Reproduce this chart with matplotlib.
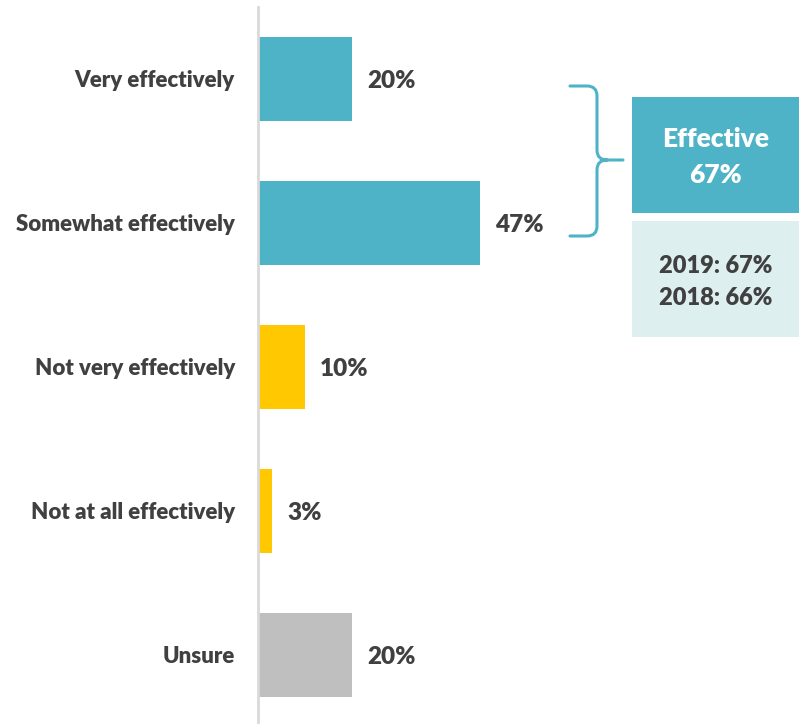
import numpy as np
import matplotlib.pyplot as plt
from matplotlib.patches import Rectangle, PathPatch
from matplotlib.path import Path

# survey responses, share of respondents (%)
categories = ['Very effectively', 'Somewhat effectively', 'Not very effectively',
              'Not at all effectively', 'Unsure']
values = [20, 47, 10, 3, 20]
bar_colors = ['#4FB3C8', '#4FB3C8', '#FFC800', '#FFC800', '#BFBFBF']

summary_title = 'Effective'
summary_value = 67
history = [('2019', 67), ('2018', 66)]

TEXT = '#404040'
TEAL = '#4FB3C8'
LIGHT = '#DDEFEE'

plt.rcParams['font.family'] = ['Lato', 'DejaVu Sans']
plt.rcParams['font.weight'] = 'heavy'

W, H = 799, 724
fig = plt.figure(figsize=(W / 100, H / 100), dpi=100)


def fx(px):
    return px / W


def fy(py):
    return 1 - py / H


# bars axis: starts at the category axis, 1% ~ 4.72 px
ax = fig.add_axes([fx(258), 0, 1 - fx(258), 1])
ax.set_xlim(0, (W - 258) / 4.72)
ax.set_ylim((H - 79) / 144, -79 / 144)
ax.axis('off')

y = np.arange(len(categories))
ax.barh(y, values, height=0.59, color=bar_colors, left=0)
for yi, v in zip(y, values):
    ax.text(v + 3.2, yi + 0.012, f'{v}%', va='center', ha='left',
            fontsize=17.5, fontweight='heavy', color=TEXT)
    ax.text(-23 / 4.72, yi + 0.012, categories[yi], va='center', ha='right',
            fontsize=16, fontweight='heavy', color=TEXT, clip_on=False)

# category axis line
fig.add_artist(plt.Line2D([fx(258), fx(258)], [fy(7), 0], color='#D9D9D9', lw=2))

# brace joining the two "effective" rows
x0, x1, xt = 570, 597, 623
yt, ym, yb = 86, 160, 236
r = 10
verts = [
    (x0, yt), (x1 - r, yt), (x1, yt), (x1, yt + r),
    (x1, ym - r), (x1, ym), (x1 + r, ym), (xt, ym),
    (x1 + r, ym), (x1, ym), (x1, ym + r),
    (x1, yb - r), (x1, yb), (x1 - r, yb), (x0, yb),
]
codes = [Path.MOVETO, Path.LINETO, Path.CURVE3, Path.CURVE3,
         Path.LINETO, Path.CURVE3, Path.CURVE3, Path.LINETO,
         Path.MOVETO, Path.CURVE3, Path.CURVE3,
         Path.LINETO, Path.CURVE3, Path.CURVE3, Path.LINETO]
brace = Path([(fx(a), fy(b)) for a, b in verts], codes)
fig.add_artist(PathPatch(brace, transform=fig.transFigure, fill=False,
                         edgecolor=TEAL, lw=2.2, capstyle='round'))

# summary boxes
fig.add_artist(Rectangle((fx(632), fy(213)), fx(W - 632), (213 - 97) / H,
                         transform=fig.transFigure, color=TEAL, lw=0))
fig.add_artist(Rectangle((fx(632), fy(337)), fx(W - 632), (337 - 221) / H,
                         transform=fig.transFigure, color=LIGHT, lw=0))
cx = fx((632 + W) / 2)
fig.text(cx, fy(139), summary_title, ha='center', va='center',
         fontsize=19, fontweight='heavy', color='white')
fig.text(cx, fy(175), f'{summary_value}%', ha='center', va='center',
         fontsize=19, fontweight='heavy', color='white')
for i, (yr, v) in enumerate(history):
    fig.text(cx, fy(266 + 32 * i), f'{yr}: {v}%', ha='center', va='center',
             fontsize=17, fontweight='heavy', color=TEXT)

fig.savefig('out.png', dpi=100)
